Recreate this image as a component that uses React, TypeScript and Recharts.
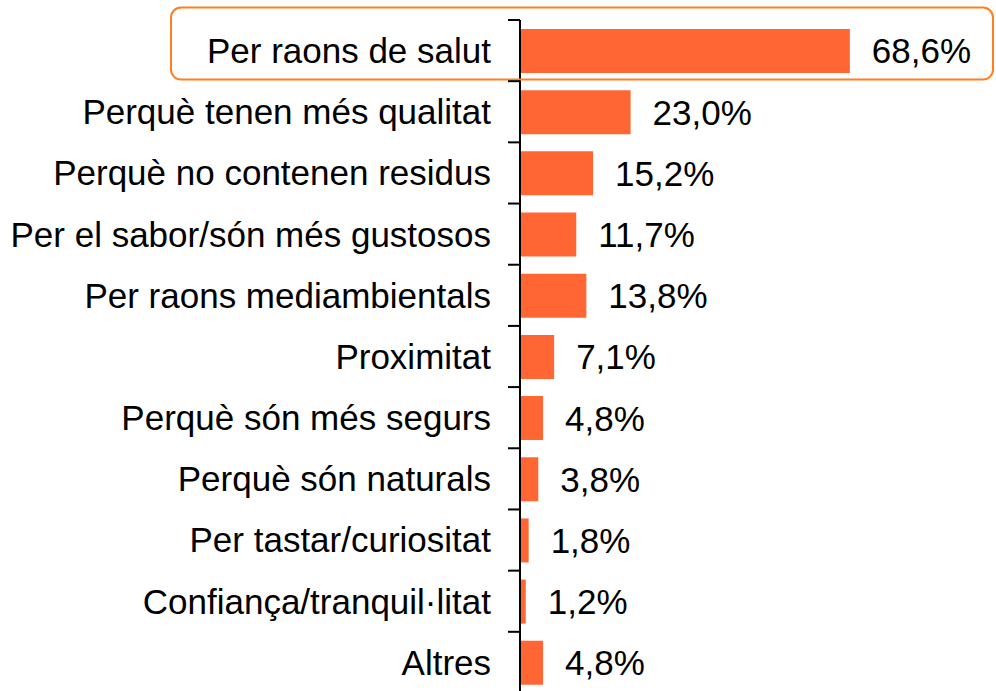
import { BarChart, Bar, XAxis, YAxis, LabelList } from 'recharts'

const categories = [
  'Per raons de salut',
  'Perquè tenen més qualitat',
  'Perquè no contenen residus',
  'Per el sabor/són més gustosos',
  'Per raons mediambientals',
  'Proximitat',
  'Perquè són més segurs',
  'Perquè són naturals',
  'Per tastar/curiositat',
  'Confiança/tranquil·litat',
  'Altres',
]
const values = [68.6, 23.0, 15.2, 11.7, 13.8, 7.1, 4.8, 3.8, 1.8, 1.2, 4.8]

const data = categories.map((name, i) => ({ name, value: values[i] }))

const W = 996
const H = 700
const TOP = 20
const BOTTOM = 7
const STEP = (H - TOP - BOTTOM) / categories.length
const FONT = '"Liberation Sans", Arial, sans-serif'

const fmt = (v: unknown) => `${Number(v).toFixed(1).replace('.', ',')}%`

function Tick(props: any) {
  const { x, y, payload, index } = props
  const ax = x + 29 // axis line position
  return (
    <g>
      {index === 0 && (
        <rect x={x - 320} y={y - 43} width={822} height={72} rx={10}
          fill="none" stroke="#FF7F1E" strokeWidth={2} />
      )}
      <line x1={ax - 12} x2={ax} y1={y - STEP / 2} y2={y - STEP / 2} stroke="#000" strokeWidth={2} />
      {index === categories.length - 1 && (
        <line x1={ax - 12} x2={ax} y1={y + STEP / 2} y2={y + STEP / 2} stroke="#000" strokeWidth={2} />
      )}
      <text x={x} y={y} dy="0.355em" textAnchor="end" fontSize={35} fill="#000" fontFamily={FONT}>
        {payload.value}
      </text>
    </g>
  )
}

export default function App() {
  return (
    <div style={{ position: 'absolute', left: 0, top: 0, width: W, height: 691, overflow: 'hidden', background: '#fff' }}>
      <BarChart
        width={W}
        height={H}
        data={data}
        layout="vertical"
        margin={{ top: TOP, right: 0, left: 0, bottom: BOTTOM }}
      >
        <XAxis type="number" domain={[0, 99]} hide />
        <YAxis
          type="category"
          dataKey="name"
          width={520}
          interval={0}
          tickSize={12}
          tickMargin={17}
          tickLine={false}
          axisLine={{ stroke: '#000', strokeWidth: 2 }}
          tick={<Tick />}
        />
        <Bar dataKey="value" fill="#FF6633" barSize={44} isAnimationActive={false}>
          <LabelList
            dataKey="value"
            position="right"
            offset={22}
            formatter={fmt}
            style={{ fontSize: 35, fill: '#000', fontFamily: FONT }}
          />
        </Bar>
      </BarChart>
    </div>
  )
}
